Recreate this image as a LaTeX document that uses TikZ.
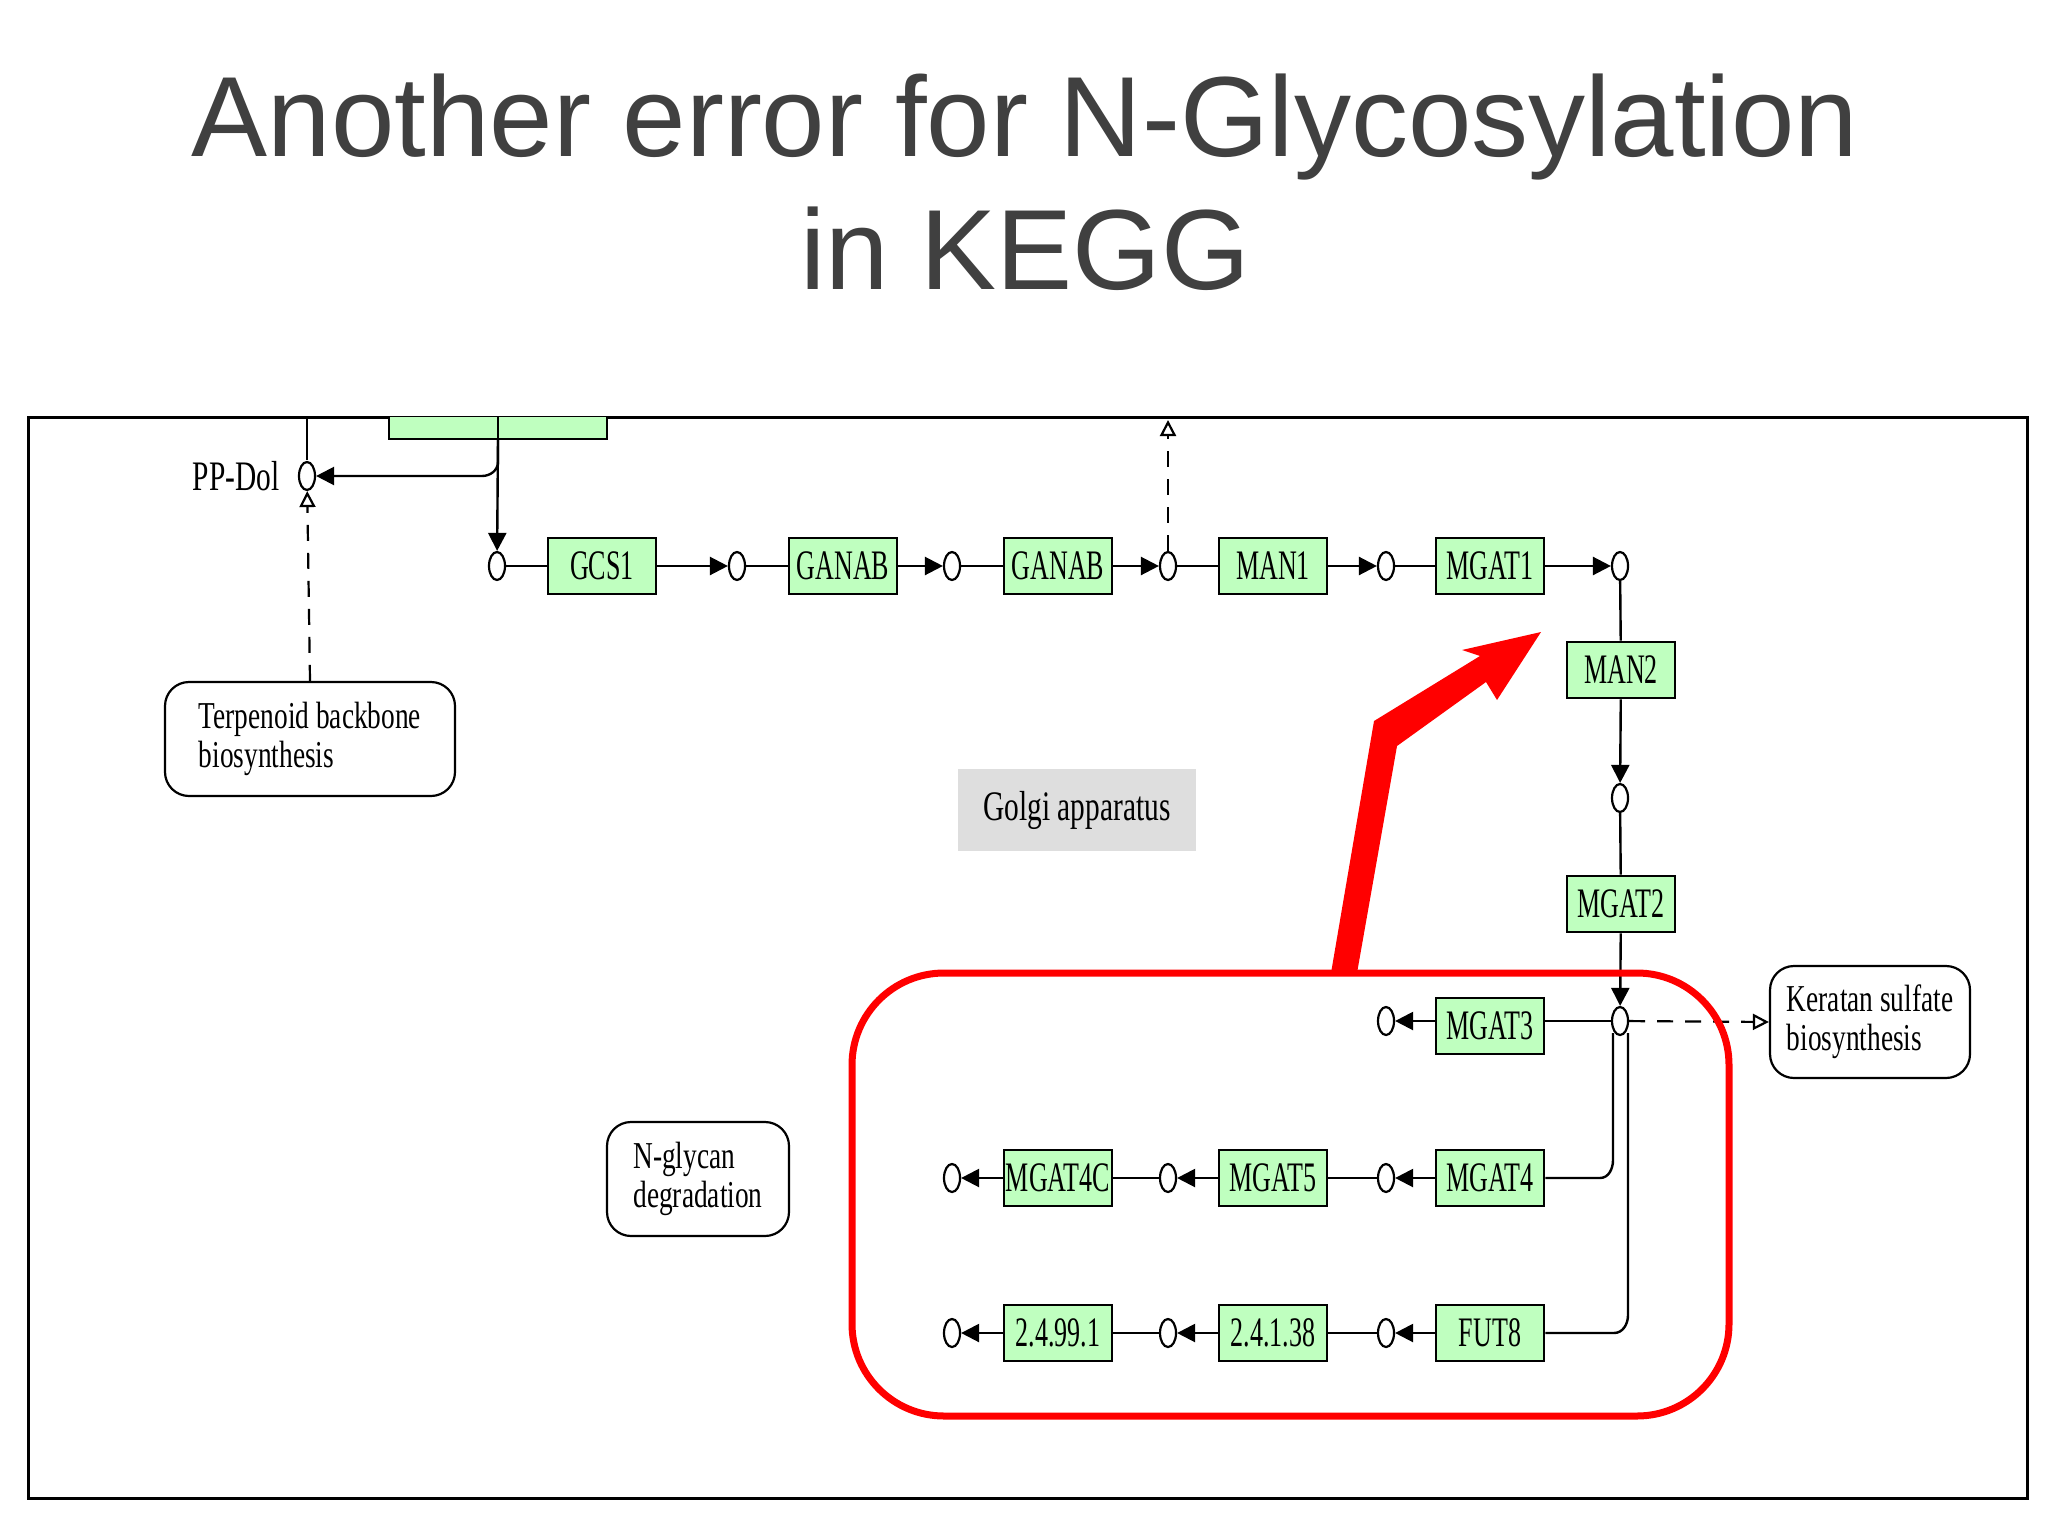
\documentclass[tikz,border=0pt]{standalone}
\usepackage{fontspec}
\setmainfont{Liberation Serif}
\newfontfamily\titlefont{Liberation Sans}
\usetikzlibrary{shapes.geometric,arrows.meta}
\definecolor{kgreen}{HTML}{BFFFBF}
\definecolor{ttl}{HTML}{404040}
\tikzset{
 gene/.style={draw,line width=1.4pt,fill=kgreen,minimum width=54pt,minimum height=28pt,inner sep=0pt,font=\fontsize{21}{22}\selectfont},
 cpd/.style={draw,line width=1.1pt,ellipse,fill=white,minimum width=8pt,minimum height=14pt,inner sep=0pt},
 mapbox/.style={draw,line width=1.1pt,rounded corners=12pt,align=left,font=\fontsize{19}{15}\selectfont,inner sep=0pt},
 conn/.style={line width=1.2pt},
 rx/.style={line width=1.2pt,-{Triangle[length=9pt,width=9pt]}},
 ox/.style={line width=1.1pt,dashed,dash pattern=on 8pt off 6pt,-{Triangle[open,length=8pt,width=8pt]}},
}
\begin{document}
\begin{tikzpicture}[x=0.5pt,y=-0.5pt]
\useasboundingbox (0,0) rectangle (2048,1535);
\fill[white] (0,0) rectangle (2048,1535);
\node[font=\titlefont\fontsize{57}{64}\selectfont,text=ttl] (t1) at (1025,127) {Another error for N-Glycosylation};
\node[font=\titlefont\fontsize{57}{64}\selectfont,text=ttl] (t2) at (1025,249) {in KEGG};
\draw[line width=1.5pt] (28,417) rectangle (2027,1498);
\begin{scope}
\clip (28,417) rectangle (2027,1498);
\draw[line width=1.4pt,fill=kgreen] (389,380) rectangle (607,439);
\draw[conn] (498,380) -- (498,439);
\draw[conn] (307,380) -- (307,460);
\end{scope}
\node[cpd] (pp) at (307,476) {};
\node[font=\fontsize{21}{22}\selectfont,xscale=0.7] (ppl) at (236,476) {PP-Dol};
\coordinate (jn) at (498,439);
\draw[rx] (498,439) -- (498,462) to[out=-90,in=0] (482,476) -- (pp);
% row 1
\foreach \n/\x in {c0/497,c1/737,c2/952,c3/1168,c4/1386,c5/1620}{\node[cpd] (\n) at (\x,566) {};}
\foreach \n/\x/\t in {g1/602/GCS1,g2/843/GANAB,g3/1058/GANAB,g4/1273/MAN1,g5/1490/MGAT1}{\node[gene] (\n) at (\x,566) {\scalebox{0.62}[1]{\t}};}
\draw[rx] (jn) -- (c0);
\draw[conn] (c0)--(g1); \draw[rx] (g1)--(c1);
\draw[conn] (c1)--(g2); \draw[rx] (g2)--(c2);
\draw[conn] (c2)--(g3); \draw[rx] (g3)--(c3);
\draw[conn] (c3)--(g4); \draw[rx] (g4)--(c4);
\draw[conn] (c4)--(g5); \draw[rx] (g5)--(c5);
\coordinate (topc) at (1168,420);
\draw[ox] (c3) -- (topc);
\node[mapbox,minimum width=145pt,minimum height=57pt] (terp) at (310,739) {\scalebox{0.72}[1]{\begin{tabular}{@{}l@{}}Terpenoid backbone\\[2pt]biosynthesis\end{tabular}}};
\draw[ox] (terp.north) -- (pp);
\node[gene] (man2) at (1621,670) {\scalebox{0.62}[1]{MAN2}};
\node[cpd] (c6) at (1620,798) {};
\node[gene] (mg2) at (1621,904) {\scalebox{0.62}[1]{MGAT2}};
\node[cpd] (c7) at (1620,1021) {};
\draw[conn] (c5)--(man2); \draw[rx] (man2)--(c6);
\draw[conn] (c6)--(mg2); \draw[rx] (mg2)--(c7);
\node[gene] (mg3) at (1490,1026) {\scalebox{0.62}[1]{MGAT3}};
\node[cpd] (c8) at (1386,1021) {};
\draw[conn] (c7)--(mg3.east|-c7); \draw[rx] (mg3.west|-c8)--(c8);
\node[mapbox,minimum width=100pt,minimum height=56pt] (ker) at (1870,1022) {\scalebox{0.72}[1]{\begin{tabular}{@{}l@{}}Keratan sulfate\\[2pt]biosynthesis\end{tabular}}};
\draw[ox] (c7) -- (ker.west);
% row 2
\foreach \n/\x in {d1/952,d2/1168,d3/1386}{\node[cpd] (\n) at (\x,1178) {};}
\foreach \n/\x/\t in {h1/1058/MGAT4C,h2/1273/MGAT5,h3/1490/MGAT4}{\node[gene] (\n) at (\x,1178) {\scalebox{0.62}[1]{\t}};}
\draw[rx] (h3)--(d3); \draw[conn] (d3)--(h2); \draw[rx] (h2)--(d2); \draw[conn] (d2)--(h1); \draw[rx] (h1)--(d1);
\draw[conn] (h3.east) -- (1600,1178) to[out=0,in=-90] (1613,1160) -- (1613,1033);
% row 3
\foreach \n/\x in {e1/952,e2/1168,e3/1386}{\node[cpd] (\n) at (\x,1333) {};}
\foreach \n/\x/\t in {k1/1058/2.4.99.1,k2/1273/2.4.1.38,k3/1490/FUT8}{\node[gene] (\n) at (\x,1333) {\scalebox{0.62}[1]{\t}};}
\draw[rx] (k3)--(e3); \draw[conn] (e3)--(k2); \draw[rx] (k2)--(e2); \draw[conn] (e2)--(k1); \draw[rx] (k1)--(e1);
\draw[conn] (k3.east) -- (1614,1333) to[out=0,in=-90] (1628,1315) -- (1628,1033);
\node[mapbox,minimum width=91pt,minimum height=57pt] (ngly) at (698,1179) {\scalebox{0.72}[1]{\begin{tabular}{@{}l@{}}N-glycan\\[2pt]degradation\end{tabular}}};
\node[fill=black!13,minimum width=119pt,minimum height=41pt,font=\fontsize{21}{22}\selectfont] (golgi) at (1077,810) {\scalebox{0.7}[1]{Golgi apparatus}};
\draw[red,line width=3.5pt,rounded corners=46pt] (852,973) rectangle (1729,1416);
\fill[red] (1331,973) -- (1374,721) -- (1480,656) -- (1462,650) -- (1541,632) -- (1497,700) -- (1486,682) -- (1397,746) -- (1357,973) -- cycle;
\end{tikzpicture}
\end{document}
